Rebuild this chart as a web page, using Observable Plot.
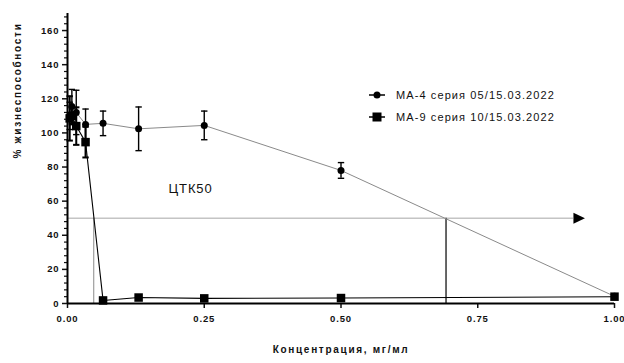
<!DOCTYPE html>
<html>
<head>
<meta charset="utf-8">
<script src="https://cdn.jsdelivr.net/npm/d3@7"></script>
<script src="https://cdn.jsdelivr.net/npm/@observablehq/plot@0.6"></script>
<style>
  html, body { margin: 0; padding: 0; background: #fff; }
  #chart { position: relative; width: 624px; height: 363px; font-family: "Liberation Sans", Arial, sans-serif; }
  #chart svg text { letter-spacing: 0.9px; }
  .legend { position: absolute; left: 368px; top: 84px; font-size: 11px; letter-spacing: 1.1px; color: #111; }
  .legend .row { display: flex; align-items: center; height: 22px; }
  .legend svg { margin-right: 10px; }
</style>
</head>
<body>
<div id="chart"></div>
<script>
// Concentrations, mg/ml
const conc = [0.004, 0.008, 0.016, 0.033, 0.065, 0.13, 0.25, 0.5, 1.0];

// Viability (%) and SD for each batch
const ma4Mean = [110, 115.5, 112, 105, 105.6, 102.4, 104.4, 78, 4.2];
const ma4Sd   = [8, 10, 13, 9, 7.2, 12.8, 8.4, 4.6, 0.8];
const ma9Mean = [108.5, 110, 104, 94.6, 1.8, 3.5, 3.0, 3.2, 4.0];
const ma9Sd   = [13, 5, 11, 9, 0.5, 0.6, 0.5, 0.5, 0.6];

const seriesNames = ["MA-4 серия 05/15.03.2022", "MA-9 серия 10/15.03.2022"];

// Axis ticks
const xTicks = [0, 0.25, 0.5, 0.75, 1.0];
const yTicks = [0, 20, 40, 60, 80, 100, 120, 140, 160];
const yMinor = d3.range(0, 171, 4).filter(v => v % 20 !== 0);

// CC50 level and the two read-off concentrations
const cc50Level = 50;
const cc50Ma9 = 0.048;
const cc50Ma4 = 0.692;
const arrowEnd = 0.935;
const cc50Label = "ЦТК50";

const ma4 = conc.map((c, i) => ({x: c, y: ma4Mean[i], lo: ma4Mean[i] - ma4Sd[i], hi: ma4Mean[i] + ma4Sd[i]}));
const ma9 = conc.map((c, i) => ({x: c, y: ma9Mean[i], lo: ma9Mean[i] - ma9Sd[i], hi: ma9Mean[i] + ma9Sd[i]}));

// Short horizontal dash used as error-bar cap
const capSymbol = {
  draw(ctx, size) {
    const w = 3.2;
    ctx.moveTo(-w, 0);
    ctx.lineTo(w, 0);
  }
};
// Right-pointing filled triangle for the arrow head
const arrowHead = {
  draw(ctx, size) {
    ctx.moveTo(-5.5, -5.5);
    ctx.lineTo(6, 0);
    ctx.lineTo(-5.5, 5.5);
    ctx.closePath();
  }
};

function errorBars(data, sw) {
  return [
    Plot.ruleX(data, {x: "x", y1: "lo", y2: "hi", stroke: "#000", strokeWidth: sw}),
    Plot.dot(data, {x: "x", y: "hi", symbol: capSymbol, stroke: "#000", strokeWidth: sw, fill: "none"}),
    Plot.dot(data, {x: "x", y: "lo", symbol: capSymbol, stroke: "#000", strokeWidth: sw, fill: "none"})
  ];
}

const plot = Plot.plot({
  width: 624,
  height: 363,
  marginLeft: 67,
  marginRight: 10,
  marginTop: 13,
  marginBottom: 60,
  style: {fontFamily: "'Liberation Sans', Arial, sans-serif", color: "#111", background: "#fff", overflow: "visible"},
  x: {domain: [0, 1]},
  y: {domain: [0, 170]},
  marks: [
    // CC50 guide lines
    Plot.ruleY([cc50Level], {x1: 0, x2: arrowEnd - 0.01, stroke: "#c4c4c4", strokeWidth: 1.6}),
    Plot.dot([cc50Level], {x: arrowEnd, y: d => d, symbol: arrowHead, fill: "#000", stroke: "none"}),
    Plot.ruleX([cc50Ma4], {y1: 0, y2: cc50Level, stroke: "#000", strokeWidth: 1.2}),
    Plot.ruleX([cc50Ma9], {y1: 0, y2: cc50Level, stroke: "#8a8a8a", strokeWidth: 1}),
    Plot.text([cc50Label], {x: 0.225, y: 67.5, text: d => d, fontSize: 13, fill: "#111"}),

    // Series lines
    Plot.line(ma4, {x: "x", y: "y", stroke: "#8a8a8a", strokeWidth: 1}),
    Plot.line(ma9, {x: "x", y: "y", stroke: "#000", strokeWidth: 1.1}),

    // Error bars
    ...errorBars(ma9, 2),
    ...errorBars(ma4, 1.4),

    // Markers
    Plot.dot(ma9, {x: "x", y: "y", symbol: "square", r: 4.8, fill: "#000", stroke: "none"}),
    Plot.dot(ma4, {x: "x", y: "y", symbol: "circle", r: 3.5, fill: "#000", stroke: "none"}),

    // Axes
    Plot.axisY(yMinor, {tickSize: 3, strokeWidth: 1.2, text: null, label: null}),
    Plot.axisY(yTicks, {tickSize: 5, strokeWidth: 1.5, tickPadding: 3, fontSize: 9.5, fontWeight: "bold", label: null, tickFormat: d => String(d)}),
    Plot.axisX(xTicks, {tickSize: 5, strokeWidth: 1.5, tickPadding: 7, fontSize: 9.5, fontWeight: "bold", label: null, tickFormat: d3.format(".2f")}),
    Plot.ruleX([0], {y1: 0, y2: 170, stroke: "#000", strokeWidth: 2}),
    Plot.ruleY([0], {x1: 0, x2: 1, stroke: "#000", strokeWidth: 2}),

    // Axis titles
    Plot.text(["Концентрация, мг/мл"], {frameAnchor: "bottom", dy: 49, text: d => d, fontSize: 10, fontWeight: "bold", fill: "#111"}),
    Plot.text(["% жизнеспособности"], {frameAnchor: "left", dx: -50, rotate: -90, text: d => d, fontSize: 10, fontWeight: "bold", fill: "#111"})
  ]
});

const chart = document.getElementById("chart");
chart.appendChild(plot);

// Wider tracking on axis titles
d3.select(plot).selectAll("text").filter(function () {
  const t = this.textContent;
  return t === "Концентрация, мг/мл" || t === "% жизнеспособности";
}).style("letter-spacing", "1.7px");

// Legend
const legend = document.createElement("div");
legend.className = "legend";
const markers = [
  '<circle cx="9" cy="6" r="3.5" fill="#000"/>',
  '<rect x="4.5" y="1.5" width="9" height="9" fill="#000"/>'
];
seriesNames.forEach((name, i) => {
  const row = document.createElement("div");
  row.className = "row";
  row.innerHTML = `<svg width="18" height="12"><line x1="1" x2="17" y1="6" y2="6" stroke="#000" stroke-width="1.5"/>${markers[i]}</svg><span>${name}</span>`;
  legend.appendChild(row);
});
chart.appendChild(legend);
</script>
</body>
</html>
